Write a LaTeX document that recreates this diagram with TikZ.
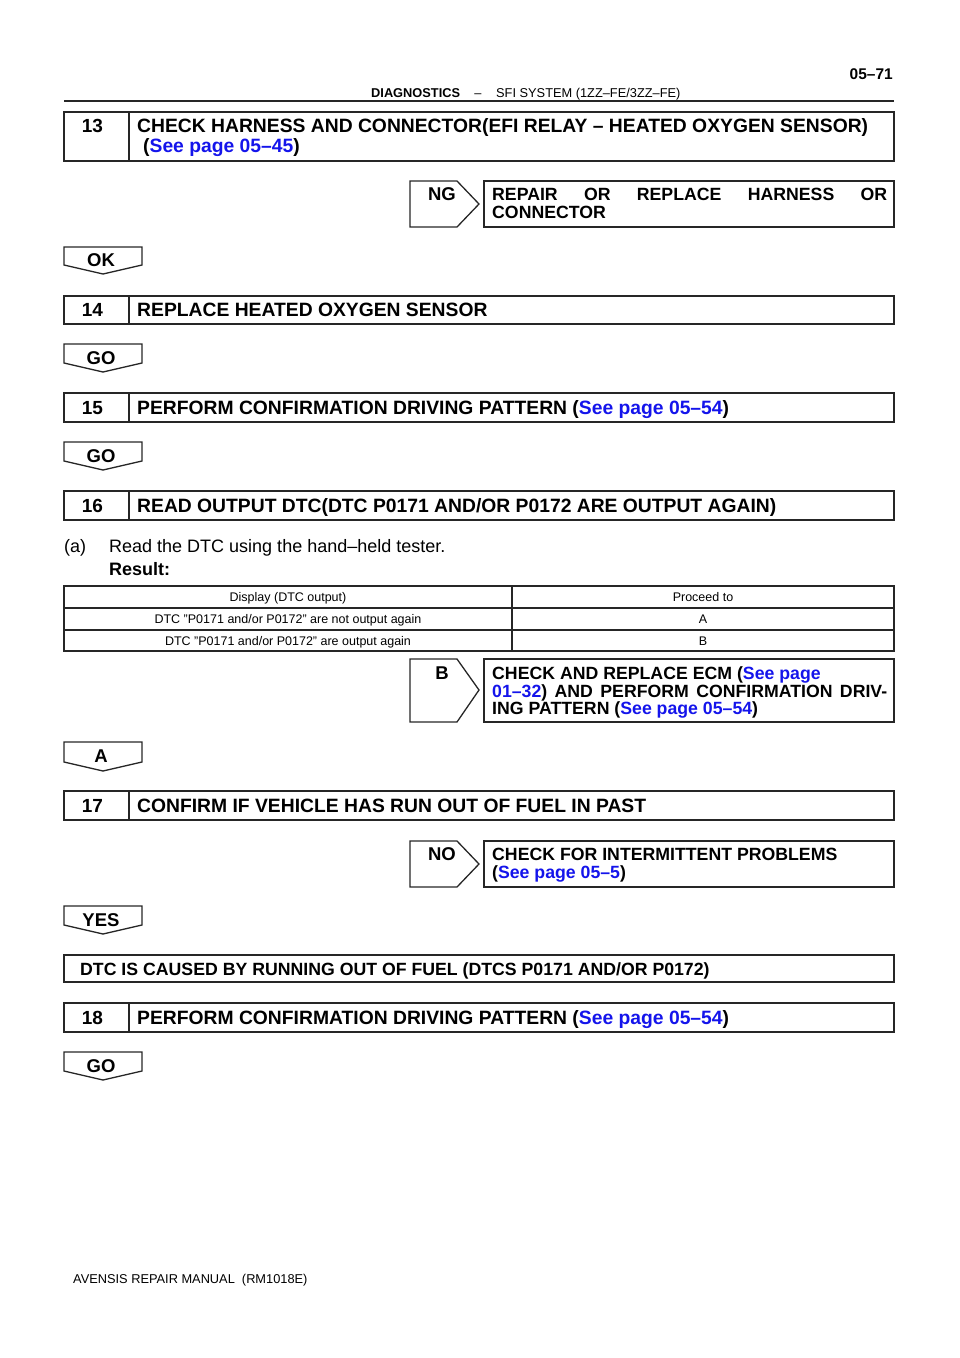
\documentclass[tikz,border=0pt]{standalone}
\usepackage{fontspec}
\setmainfont{Liberation Sans}
\definecolor{linkblue}{RGB}{20,20,235}
\tikzset{
	boxline/.style={line width=1.3pt, draw=black!85},
	title/.style={anchor=base west, inner sep=0pt, font=\bfseries\fontsize{19.3}{20}\selectfont},
	remedy/.style={anchor=base west, inner sep=0pt, font=\bfseries\fontsize{17.7}{18}\selectfont},
	numtext/.style={anchor=base, inner sep=0pt, font=\bfseries\fontsize{19}{20}\selectfont},
	tablabel/.style={anchor=base, inner sep=0pt, font=\bfseries\fontsize{18.5}{20}\selectfont},
	bodytext/.style={anchor=base west, inner sep=0pt, font=\fontsize{18}{20}\selectfont},
	celltext/.style={anchor=base, inner sep=0pt, font=\fontsize{12.5}{14}\selectfont},
	headtext/.style={inner sep=0pt, font=\fontsize{12.8}{14}\selectfont}
}
\newcommand{\seepage}[1]{\textcolor{linkblue}{See page #1}}
\begin{document}
\begin{tikzpicture}[x=1pt, y=-1pt]
	\useasboundingbox (0,0) rectangle (960,1358);
	% page header
	\node[anchor=base east, inner sep=0pt, font=\bfseries\fontsize{15.5}{16}\selectfont] (pageno) at (893,79) {05–71};
	\node[headtext, anchor=base west, font=\bfseries\fontsize{12.8}{14}\selectfont] (hdrleft) at (371,97.5) {DIAGNOSTICS};
	\node[headtext, anchor=base] (hdrdash) at (478,97.5) {–};
	\node[headtext, anchor=base west] (hdrright) at (496,97.5) {SFI SYSTEM (1ZZ–FE/3ZZ–FE)};
	\draw [line width=2pt, black!85] (64,101) -- (894,101);
	% 13
	\draw [boxline] (64,112) rectangle (894,161);
	\draw [boxline] (129,112) -- (129,161);
	\node[numtext] (n13) at (92.5,132.5) {13};
	\node[title] (t13) at (137,132.5) {CHECK HARNESS AND CONNECTOR(EFI RELAY – HEATED OXYGEN SENSOR)};
	\node[title] (t13b) at (143,152.5) {(\seepage{05–45})};
	\draw [boxline] (410,181) -- (457,181) -- (479,204) -- (457,227) -- (410,227) -- cycle;
	\node[tablabel] (ng) at (442,200.5) {NG};
	\draw [boxline] (484,181) rectangle (894,227);
	\node[remedy] (ng1) at (492,200.5) {\makebox[395pt][s]{REPAIR OR REPLACE HARNESS OR}};
	\node[remedy] (ng2) at (492,218.5) {CONNECTOR};
	\draw [boxline] (64,247) -- (142,247) -- (142,265) -- (103,274) -- (64,265) -- cycle;
	\node[tablabel] (ok) at (101,266.5) {OK};
	% 14
	\draw [boxline] (64,296) rectangle (894,324);
	\draw [boxline] (129,296) -- (129,324);
	\node[numtext] (n14) at (92.5,316) {14};
	\node[title] (t14) at (137,316) {REPLACE HEATED OXYGEN SENSOR};
	\draw [boxline] (64,344) -- (142,344) -- (142,363) -- (103,372) -- (64,363) -- cycle;
	\node[tablabel] (go14) at (101,364.5) {GO};
	% 15
	\draw [boxline] (64,393) rectangle (894,422);
	\draw [boxline] (129,393) -- (129,422);
	\node[numtext] (n15) at (92.5,414) {15};
	\node[title] (t15) at (137,414) {PERFORM CONFIRMATION DRIVING PATTERN (\seepage{05–54})};
	\draw [boxline] (64,442) -- (142,442) -- (142,461) -- (103,470) -- (64,461) -- cycle;
	\node[tablabel] (go15) at (101,462.5) {GO};
	% 16
	\draw [boxline] (64,491) rectangle (894,520);
	\draw [boxline] (129,491) -- (129,520);
	\node[numtext] (n16) at (92.5,512) {16};
	\node[title] (t16) at (137,512) {READ OUTPUT DTC(DTC P0171 AND/OR P0172 ARE OUTPUT AGAIN)};
	\node[bodytext] (stepa) at (64,552) {(a)};
	\node[bodytext] (reada) at (109,552) {Read the DTC using the hand–held tester.};
	\node[bodytext, font=\bfseries\fontsize{18}{20}\selectfont] (result) at (109,575.5) {Result:};
	% result table
	\draw [boxline, line width=1.1pt] (64,586) rectangle (894,651);
	\draw [boxline, line width=1.1pt] (64,608) -- (894,608);
	\draw [boxline, line width=1.1pt] (64,630) -- (894,630);
	\draw [boxline, line width=1.1pt] (512,586) -- (512,651);
	\node[celltext] (c11) at (288,601.5) {Display (DTC output)};
	\node[celltext] (c12) at (703,601.5) {Proceed to};
	\node[celltext] (c21) at (288,623.5) {DTC "P0171 and/or P0172" are not output again};
	\node[celltext] (c22) at (703,623.5) {A};
	\node[celltext] (c31) at (288,645) {DTC "P0171 and/or P0172" are output again};
	\node[celltext] (c32) at (703,645) {B};
	\draw [boxline] (410,659) -- (457,659) -- (479,690) -- (457,722) -- (410,722) -- cycle;
	\node[tablabel] (b) at (442,679.5) {B};
	\draw [boxline] (484,659) rectangle (894,722);
	\node[remedy] (b1) at (492,679.5) {CHECK AND REPLACE ECM (\textcolor{linkblue}{See page}};
	\node[remedy] (b2) at (492,697) {\makebox[395pt][s]{\textcolor{linkblue}{01–32}) AND PERFORM CONFIRMATION DRIV-}};
	\node[remedy] (b3) at (492,714.5) {ING PATTERN (\seepage{05–54})};
	\draw [boxline] (64,742) -- (142,742) -- (142,762) -- (103,771) -- (64,762) -- cycle;
	\node[tablabel] (a) at (101,762.5) {A};
	% 17
	\draw [boxline] (64,791) rectangle (894,820);
	\draw [boxline] (129,791) -- (129,820);
	\node[numtext] (n17) at (92.5,812) {17};
	\node[title] (t17) at (137,812) {CONFIRM IF VEHICLE HAS RUN OUT OF FUEL IN PAST};
	\draw [boxline] (410,841) -- (457,841) -- (479,864) -- (457,887) -- (410,887) -- cycle;
	\node[tablabel] (no) at (442,860.5) {NO};
	\draw [boxline] (484,841) rectangle (894,887);
	\node[remedy] (no1) at (492,860.5) {CHECK FOR INTERMITTENT PROBLEMS};
	\node[remedy] (no2) at (492,878.5) {(\seepage{05–5})};
	\draw [boxline] (64,906) -- (142,906) -- (142,925) -- (103,934) -- (64,925) -- cycle;
	\node[tablabel] (yes) at (101,926.5) {YES};
	\draw [boxline] (64,955) rectangle (894,982);
	\node[remedy] (cause) at (80,975) {DTC IS CAUSED BY RUNNING OUT OF FUEL (DTCS P0171 AND/OR P0172)};
	% 18
	\draw [boxline] (64,1003) rectangle (894,1032);
	\draw [boxline] (129,1003) -- (129,1032);
	\node[numtext] (n18) at (92.5,1024) {18};
	\node[title] (t18) at (137,1024) {PERFORM CONFIRMATION DRIVING PATTERN (\seepage{05–54})};
	\draw [boxline] (64,1052) -- (142,1052) -- (142,1071) -- (103,1080) -- (64,1071) -- cycle;
	\node[tablabel] (go18) at (101,1072.5) {GO};
	% footer
	\node[headtext, anchor=base west] (footer) at (73,1283.5) {AVENSIS REPAIR MANUAL\ \ (RM1018E)};
\end{tikzpicture}
\end{document}
